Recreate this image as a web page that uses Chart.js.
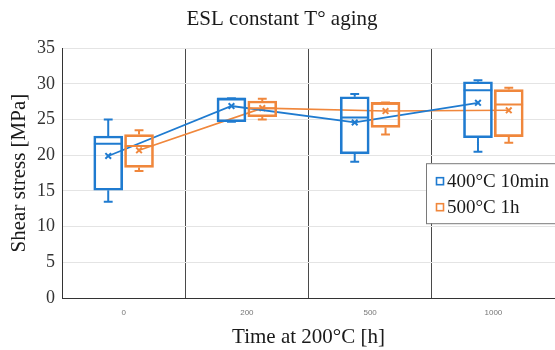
<!DOCTYPE html>
<html><head><meta charset="utf-8">
<script src="https://cdn.jsdelivr.net/npm/chart.js@4.4.1/dist/chart.umd.min.js"></script>
<style>html,body{margin:0;padding:0;background:#fff}#wrap{width:555px;height:350px}</style>
</head><body><div id="wrap"><canvas id="c" width="555" height="350"></canvas></div>
<script>
// ---- data ----
const categories = ['0', '200', '500', '1000'];
const seriesNames = ['400°C 10min', '500°C 1h'];
const yTicks = [0, 5, 10, 15, 20, 25, 30, 35];

const s1Min    = [13.5, 24.7, 19.1, 20.5];
const s1Q1     = [15.1, 24.7, 20.2, 22.45];
const s1Median = [21.6, 27.9, 25.3, 29.1];
const s1Q3     = [22.7, 28.0, 28.2, 30.3];
const s1Max    = [25.0, 28.0, 28.6, 30.5];
const s1Mean   = [19.9, 26.9, 24.6, 27.35];

const s2Min    = [17.8, 25.0, 22.9, 21.75];
const s2Q1     = [18.3, 25.4, 23.9, 22.6];
const s2Median = [21.3, 26.6, 27.2, 27.1];
const s2Q3     = [22.9, 27.6, 27.4, 29.2];
const s2Max    = [23.5, 27.9, 27.4, 29.45];
const s2Mean   = [20.7, 26.6, 26.2, 26.3];

// ---- styles ----
const BLUE = '#1f7bd0';
const ORANGE = '#f0873c';
const SERIF = "'Liberation Serif', 'Times New Roman', serif";
const OFF = [-0.125, 0.125];
const CAP = 0.036;
const MED = 0.116;

function whiskerPoints(mins, q1, med, q3, maxs, off) {
  const pts = [];
  const gap = x => pts.push({x: x, y: null});
  for (let i = 0; i < mins.length; i++) {
    const x = i + off;
    pts.push({x, y: mins[i]}, {x, y: q1[i]}); gap(x);
    pts.push({x, y: q3[i]}, {x, y: maxs[i]}); gap(x);
    pts.push({x: x - CAP, y: mins[i]}, {x: x + CAP, y: mins[i]}); gap(x);
    pts.push({x: x - CAP, y: maxs[i]}, {x: x + CAP, y: maxs[i]}); gap(x);
    pts.push({x: x - MED, y: med[i]}, {x: x + MED, y: med[i]}); gap(x);
  }
  return pts;
}
function boxPoints(q1, q3, off) {
  return q1.map((v, i) => ({x: i + off, y: [v, q3[i]]}));
}
function meanPoints(means, off) {
  return means.map((v, i) => ({x: i + off, y: v}));
}

const legendPlugin = {
  id: 'boxLegend',
  afterDraw(chart) {
    const ctx = chart.ctx, a = chart.chartArea;
    const left = a.right - 129, top = a.top + 115, h = 60;
    ctx.save();
    ctx.fillStyle = '#fff';
    ctx.fillRect(left, top, a.right - left + 5, h);
    ctx.strokeStyle = '#7a7a7a';
    ctx.lineWidth = 1;
    ctx.strokeRect(left + 0.5, top + 0.5, a.right - left + 5, h);
    const cols = [BLUE, ORANGE];
    ctx.font = '19px ' + SERIF;
    ctx.textBaseline = 'middle';
    ctx.fillStyle = '#1a1a1a';
    for (let k = 0; k < 2; k++) {
      const cy = top + 18 + k * 26;
      ctx.strokeStyle = cols[k];
      ctx.lineWidth = 1.6;
      ctx.strokeRect(left + 10.5, cy - 3.5, 7, 7);
      ctx.fillText(seriesNames[k], left + 21, cy + 1);
    }
    ctx.restore();
  }
};

const barBase = {
  type: 'bar', xAxisID: 'xl', yAxisID: 'y', borderWidth: 2, borderSkipped: false,
  backgroundColor: 'rgba(0,0,0,0)', grouped: false, barThickness: 29
};
const lineBase = {
  type: 'line', xAxisID: 'xl', yAxisID: 'y', pointRadius: 0, spanGaps: false, fill: false, tension: 0
};

new Chart(document.getElementById('c'), {
  data: {
    labels: categories,
    datasets: [
      Object.assign({}, barBase, {label: seriesNames[0], borderColor: BLUE,
        data: boxPoints(s1Q1, s1Q3, OFF[0])}),
      Object.assign({}, barBase, {label: seriesNames[1], borderColor: ORANGE,
        data: boxPoints(s2Q1, s2Q3, OFF[1])}),
      Object.assign({}, lineBase, {label: 'w1', borderColor: BLUE, borderWidth: 2,
        data: whiskerPoints(s1Min, s1Q1, s1Median, s1Q3, s1Max, OFF[0])}),
      Object.assign({}, lineBase, {label: 'w2', borderColor: ORANGE, borderWidth: 2,
        data: whiskerPoints(s2Min, s2Q1, s2Median, s2Q3, s2Max, OFF[1])}),
      Object.assign({}, lineBase, {label: 'm1', borderColor: BLUE, borderWidth: 1.8,
        pointStyle: 'crossRot', pointRadius: 4, pointBorderWidth: 2, pointBorderColor: BLUE,
        data: meanPoints(s1Mean, OFF[0])}),
      Object.assign({}, lineBase, {label: 'm2', borderColor: ORANGE, borderWidth: 1.6,
        pointStyle: 'crossRot', pointRadius: 4, pointBorderWidth: 2, pointBorderColor: ORANGE,
        data: meanPoints(s2Mean, OFF[1])})
    ]
  },
  options: {
    responsive: false, devicePixelRatio: 1, animation: false,
    layout: {autoPadding: false, padding: {left: 9, right: 0, top: 0, bottom: 0}},
    plugins: {
      legend: {display: false},
      tooltip: {enabled: false},
      title: {display: true, text: 'ESL constant T° aging', color: '#1a1a1a',
        font: {family: SERIF, size: 21, weight: 'normal'}, padding: {top: 7, bottom: 16}}
    },
    scales: {
      x: {
        type: 'category', offset: true,
        grid: {offset: true, drawTicks: false, lineWidth: 1,
          color: c => (c.index === categories.length ? 'rgba(0,0,0,0)' : '#4a4a4a')},
        border: {color: '#333', width: 1},
        ticks: {color: '#777', font: {family: "'Liberation Sans', sans-serif", size: 8}, padding: 10},
        title: {display: true, text: 'Time at 200°C [h]', color: '#1a1a1a',
          font: {family: SERIF, size: 21, weight: 'normal'}, padding: {top: 0, bottom: 0}},
        afterFit: s => { s.height = 52; s.paddingLeft = 0; s.paddingRight = 0; }
      },
      xl: {type: 'linear', display: false, offset: false, ticks: {display: false},
        min: -0.5, max: categories.length - 0.5},
      y: {
        min: yTicks[0], max: yTicks[yTicks.length - 1],
        afterBuildTicks: s => { s.ticks = yTicks.map(v => ({value: v})); },
        grid: {color: '#e4e4e4', lineWidth: 1, drawTicks: false},
        border: {color: '#333', width: 1},
        ticks: {color: '#333', font: {family: SERIF, size: 18}, padding: 7},
        title: {display: true, text: 'Shear stress [MPa]', color: '#1a1a1a',
          font: {family: SERIF, size: 21, weight: 'normal', lineHeight: 1}, padding: {top: 0, bottom: 0}},
        afterFit: s => { s.width = 53; }
      }
    }
  },
  plugins: [legendPlugin]
});
</script></body></html>
